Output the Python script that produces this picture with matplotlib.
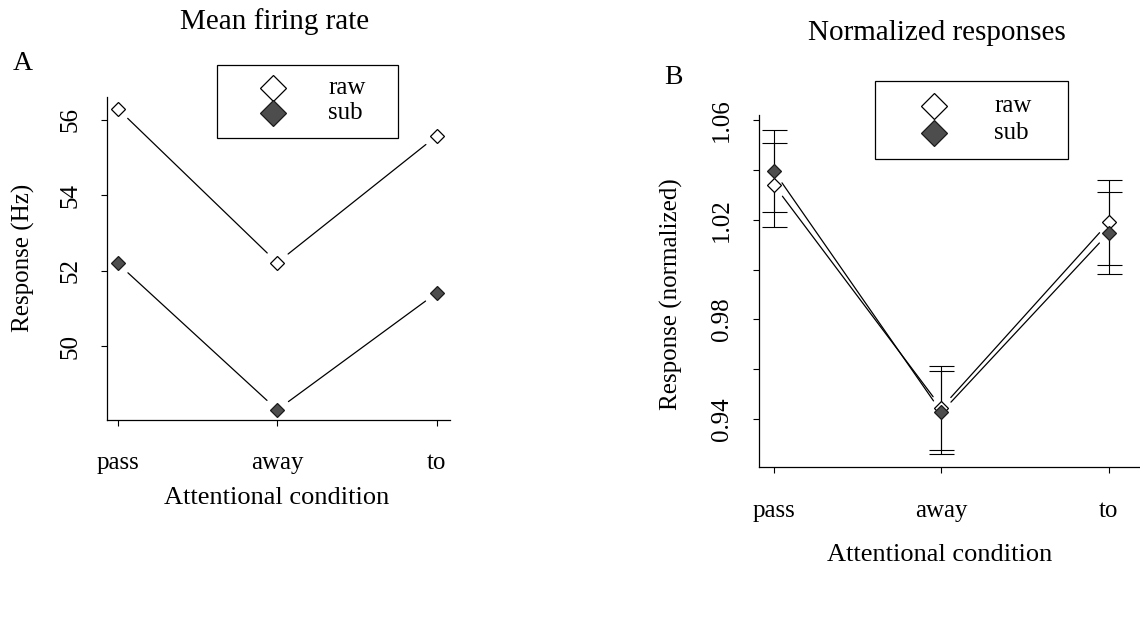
import matplotlib
matplotlib.use("Agg")
import matplotlib.pyplot as plt
from matplotlib.patches import Rectangle
from matplotlib.lines import Line2D

plt.rcParams['font.family'] = ['Liberation Serif', 'DejaVu Serif']

# ---------------- data ----------------
conditions = ["pass", "away", "to"]
series_names = ["raw", "sub"]

# Panel A: mean firing rate (Hz)
rate_raw = [56.29, 52.21, 55.57]
rate_sub = [52.19, 48.31, 51.41]
rate_ticks = [50, 52, 54, 56]
rate_ticklabels = ["50", "52", "54", "56"]

# Panel B: normalized responses
norm_raw = [1.034, 0.9444, 1.019]
norm_sub = [1.0395, 0.9426, 1.0148]
norm_raw_err = [0.017, 0.017, 0.017]
norm_sub_err = [0.0165, 0.0167, 0.0164]
norm_ticks = [0.94, 0.96, 0.98, 1.00, 1.02, 1.04, 1.06]
norm_ticklabels = ["0.94", "", "0.98", "", "1.02", "", "1.06"]

W, H = 1140, 628
fig = plt.figure(figsize=(W / 100, H / 100), dpi=100)


def fx(px):
    return px / W


def fy(py):
    return 1 - py / H


RAW_STYLE = dict(marker='D', markerfacecolor='white', markeredgecolor='black',
                 markeredgewidth=0.9)
SUB_STYLE = dict(marker='D', markerfacecolor='#4d4d4d', markeredgecolor='#1a1a1a',
                 markeredgewidth=0.9)


def gapped_line(ax, xs, ys, gap=10):
    for i in range(len(xs) - 1):
        ax.annotate('', xy=(xs[i + 1], ys[i + 1]), xytext=(xs[i], ys[i]),
                    xycoords='data', textcoords='data',
                    arrowprops=dict(arrowstyle='-', shrinkA=gap, shrinkB=gap,
                                    lw=0.9, color='black'))


def style_axes(ax, ylabel_pad_px, xlabel_pad):
    for s in ('top', 'right'):
        ax.spines[s].set_visible(False)
    for s in ('left', 'bottom'):
        ax.spines[s].set_linewidth(0.9)
    ax.tick_params(axis='both', direction='out', length=4, width=0.8,
                   labelsize=18)
    ax.tick_params(axis='y', pad=ylabel_pad_px)
    ax.tick_params(axis='x', pad=xlabel_pad)
    for lab in ax.get_yticklabels():
        lab.set_rotation(90)
        lab.set_va('center')


def draw_legend(x0, y0, x1, y1, mx, tx, rows, ms, fs):
    fig.patches.append(Rectangle((fx(x0), fy(y1)), fx(x1) - fx(x0),
                                 fy(y0) - fy(y1), transform=fig.transFigure,
                                 fill=False, edgecolor='black', lw=0.9))
    for name, ry, st in zip(series_names, rows, (RAW_STYLE, SUB_STYLE)):
        fig.add_artist(Line2D([fx(mx)], [fy(ry)], transform=fig.transFigure,
                              linestyle='none', markersize=ms, **st))
        fig.text(fx(tx), fy(ry), name, ha='left', va='center', fontsize=fs)


xpos = [1, 2, 3]

# ---------------- Panel A ----------------
axA = fig.add_axes([fx(107), fy(420), fx(450) - fx(107), fy(97) - fy(420)])
gapped_line(axA, xpos, rate_raw)
gapped_line(axA, xpos, rate_sub)
axA.plot(xpos, rate_raw, linestyle='none', markersize=7, **RAW_STYLE)
axA.plot(xpos, rate_sub, linestyle='none', markersize=7, **SUB_STYLE)
axA.set_xlim(0.933, 3.083)
axA.set_ylim(48.04, 56.60)
axA.set_xticks(xpos)
axA.set_xticklabels(conditions)
axA.set_yticks(rate_ticks)
axA.set_yticklabels(rate_ticklabels)
style_axes(axA, 14, 19)

fig.text(fx(275), fy(22), "Mean firing rate", ha='center', va='center', fontsize=21)
fig.text(fx(13), fy(63), "A", ha='left', va='center', fontsize=20)
fig.text(fx(23), fy(258), "Response (Hz)", ha='center', va='center',
         rotation=90, fontsize=18)
fig.text(fx(277), fy(498), "Attentional condition", ha='center', va='center',
         fontsize=19)
draw_legend(217, 65, 398, 138, 273, 328, (88, 113), 13, 18)

# ---------------- Panel B ----------------
axB = fig.add_axes([fx(759), fy(467), fx(1139) - fx(759), fy(115) - fy(467)])
gapped_line(axB, xpos, norm_raw)
gapped_line(axB, xpos, norm_sub)
axB.errorbar(xpos, norm_raw, yerr=norm_raw_err, fmt='none', ecolor='black',
             elinewidth=0.8, capsize=9, capthick=0.8)
axB.errorbar(xpos, norm_sub, yerr=norm_sub_err, fmt='none', ecolor='black',
             elinewidth=0.8, capsize=9, capthick=0.8)
axB.plot(xpos, norm_raw, linestyle='none', markersize=7, zorder=4, **RAW_STYLE)
axB.plot(xpos, norm_sub, linestyle='none', markersize=7, zorder=4, **SUB_STYLE)
axB.set_xlim(0.91, 3.18)
axB.set_ylim(0.9206, 1.0622)
axB.set_xticks(xpos)
axB.set_xticklabels(conditions)
axB.set_yticks(norm_ticks)
axB.set_yticklabels(norm_ticklabels)
style_axes(axB, 15, 20)

fig.text(fx(937), fy(33), "Normalized responses", ha='center', va='center', fontsize=21)
fig.text(fx(664), fy(77), "B", ha='left', va='center', fontsize=20)
fig.text(fx(671), fy(294), "Response (normalized)", ha='center', va='center',
         rotation=90, fontsize=18)
fig.text(fx(940), fy(555), "Attentional condition", ha='center', va='center',
         fontsize=19)
draw_legend(875, 81, 1068, 159, 934, 994, (106, 133), 13, 18)

fig.savefig("out.png", dpi=100)
